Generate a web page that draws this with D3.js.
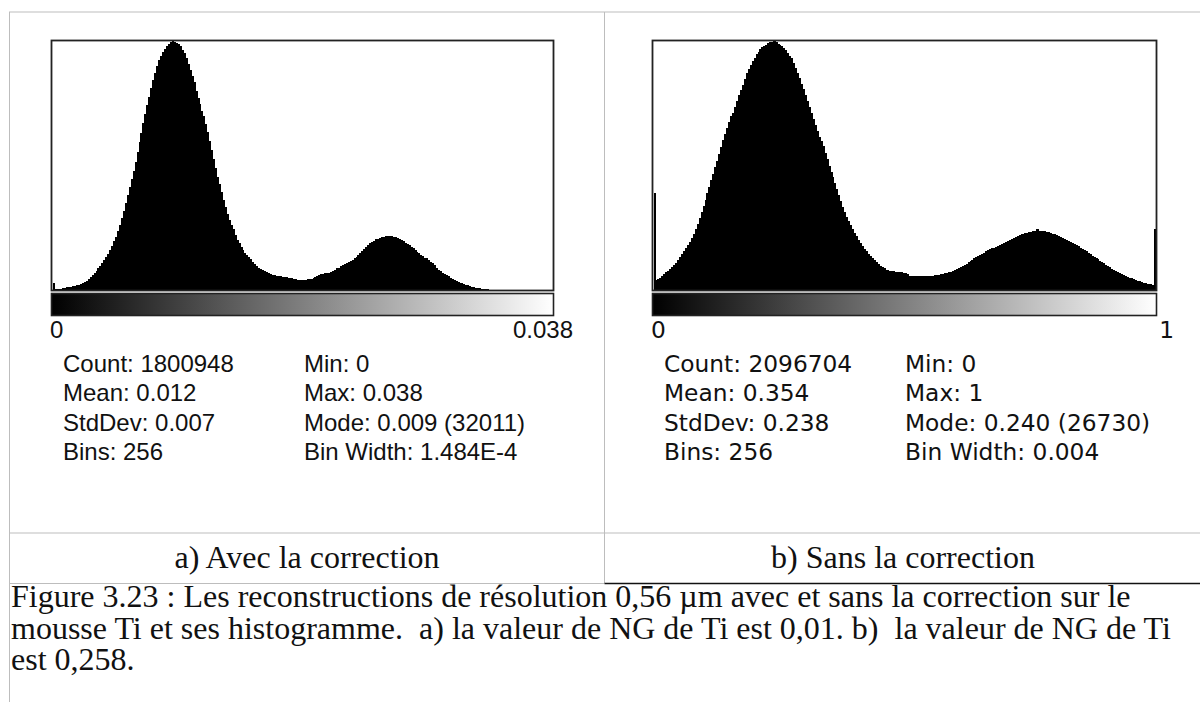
<!DOCTYPE html>
<html><head><meta charset="utf-8">
<script src="https://cdn.jsdelivr.net/npm/d3@7"></script>
<style>html,body{margin:0;padding:0;background:#fff;} svg{display:block}</style>
</head><body>
<svg id="c" width="1200" height="702"></svg>
<script>
// Histogram bin heights, in per-mille of the mode bin (256 bins each)
const histA = [
30,4,4,5,6,8,10,11,12,14, 15,17,19,22,25,28,33,38,45,52,
60,68,77,87,97,108,120,132,146,160, 175,195,214,235,260,290,318,348,380,412,
445,478,515,555,595,632,670,708,743,777, 810,842,870,898,922,940,955,967,978,988,
994,1000,996,992,989,980,965,950,930,908, 885,860,835,800,770,745,718,697,665,633,
600,562,525,490,455,425,393,362,335,306, 283,262,243,222,200,187,173,161,150,140,
133,123,112,103,95,88,84,80,75,72, 68,63,60,59,57,56,55,54,52,51,
49,48,47,45,43,42,40,41,41,42, 43,43,45,48,52,56,60,63,65,67,
68,70,72,76,82,87,90,95,101,104, 108,114,118,122,127,133,141,150,158,166,
174,181,188,193,198,203,206,209,213,214, 216,217,216,215,214,211,208,205,200,195,
189,184,179,172,168,161,153,148,141,135, 130,127,121,114,108,100,89,82,76,70,
64,60,55,50,45,40,36,32,29,27, 24,21,19,15,13,12,10,9,8,6,
5,4,3,2,1,1,0,0,0,0, 0,0,0,0,0,0,0,0,0,0,
0,0,0,0,0,0,0,0,0,0, 0,0,0,0,0,0
];
const histB = [
388,40,45,50,56,64,72,78,85,93, 102,110,120,132,143,155,168,180,193,208,
225,245,266,288,312,336,362,389,414,440, 467,492,520,547,575,603,628,652,675,697,
712,733,760,782,802,825,848,870,888,903, 918,932,947,957,967,975,980,985,990,994,
996,1000,996,989,985,978,972,962,952,940, 930,912,893,872,850,828,806,783,760,736,
712,688,663,638,614,600,578,552,525,498, 475,452,428,405,382,358,335,312,295,278,
260,243,229,215,200,187,175,165,155,145, 136,128,120,112,103,97,92,87,82,80,
78,77,75,74,73,72,71,70,68,64, 58,56,56,56,56,56,56,56,56,56,
57,57,58,59,60,62,64,66,68,70, 72,74,77,80,84,88,91,95,100,106,
112,118,122,127,132,137,141,146,150,155, 160,164,167,170,173,176,180,183,187,192,
197,202,206,210,214,218,221,223,225,227, 229,231,233,235,236,243,238,237,236,235,
233,231,229,226,224,221,218,214,210,206, 202,197,192,187,184,180,175,170,165,160,
155,149,143,138,133,128,123,117,112,107, 102,97,92,86,80,76,72,68,64,60,
57,54,50,47,44,41,38,35,32,29, 27,25,24,23,22,244
];
const rangeLabelsA = ["0", "0.038"];
const rangeLabelsB = ["0", "1"];
const statsLeftA = ["Count: 1800948", "Mean: 0.012", "StdDev: 0.007", "Bins: 256"];
const statsRightA = ["Min: 0", "Max: 0.038", "Mode: 0.009 (32011)", "Bin Width: 1.484E-4"];
const statsLeftB = ["Count: 2096704", "Mean: 0.354", "StdDev: 0.238", "Bins: 256"];
const statsRightB = ["Min: 0", "Max: 1", "Mode: 0.240 (26730)", "Bin Width: 0.004"];
const subCaptions = ["a) Avec la correction", "b) Sans la correction"];
const captionLines = [
  "Figure 3.23 : Les reconstructions de résolution 0,56 µm avec et sans la correction sur le",
  "mousse Ti et ses histogramme.  a) la valeur de NG de Ti est 0,01. b)  la valeur de NG de Ti",
  "est 0,258."
];

const svg = d3.select("#c");
const defs = svg.append("defs");
const grad = defs.append("linearGradient").attr("id", "lut").attr("x1", "0%").attr("x2", "100%");
grad.append("stop").attr("offset", "0%").attr("stop-color", "#000");
grad.append("stop").attr("offset", "100%").attr("stop-color", "#fff");

// table borders
const grid = "#bdbdbd";
const lines = [
  [9, 12, 1200, 12, grid, 1],
  [9.5, 12, 9.5, 702, grid, 1],
  [604.5, 12, 604.5, 583, grid, 1],
  [9, 533, 1200, 533, grid, 1],
  [9, 583.5, 604.5, 583.5, grid, 1],
  [604.5, 583.5, 1200, 583.5, "#111", 1.6]
];
svg.append("g").selectAll("line").data(lines).join("line")
  .attr("x1", d => d[0]).attr("y1", d => d[1]).attr("x2", d => d[2]).attr("y2", d => d[3])
  .attr("stroke", d => d[4]).attr("stroke-width", d => d[5]);

function panel(data, cfg) {
  const g = svg.append("g");
  const x = d3.scaleLinear().domain([0, data.length]).range([cfg.fx0 + 1, cfg.fx1 - 0.5]);
  const y = d3.scaleLinear().domain([0, 1000]).range([290, 41]);
  g.append("g").selectAll("rect").data(data).join("rect")
    .attr("x", (d, i) => x(i)).attr("width", (d, i) => x(i + 1) - x(i) + 0.4)
    .attr("y", d => y(d)).attr("height", d => y(0) - y(d))
    .attr("fill", "#000").attr("shape-rendering", "crispEdges");
  g.append("rect").attr("x", cfg.fx0).attr("y", 40.5).attr("width", cfg.fx1 - cfg.fx0).attr("height", 250)
    .attr("fill", "none").attr("stroke", "#222").attr("stroke-width", 1.8);
  g.append("rect").attr("x", cfg.fx0).attr("y", 293.5).attr("width", cfg.fx1 - cfg.fx0).attr("height", 22)
    .attr("fill", "url(#lut)").attr("stroke", "#222").attr("stroke-width", 1.6);
  const font = cfg.font, fs = cfg.fs;
  g.append("text").attr("x", cfg.fx0 - 1.5).attr("y", 337.5).text(cfg.range[0])
    .attr("font-family", font).attr("font-size", fs).attr("fill", "#111");
  g.append("text").attr("x", cfg.rx).attr("y", 337.5).attr("text-anchor", "end").text(cfg.range[1])
    .attr("font-family", font).attr("font-size", fs).attr("fill", "#111");
  const rows = [372, 401.3, 430.7, 459.7];
  g.append("g").selectAll("text").data(cfg.left).join("text")
    .attr("x", cfg.c1).attr("y", (d, i) => rows[i]).text(d => d)
    .attr("font-family", font).attr("font-size", fs).attr("fill", "#111");
  g.append("g").selectAll("text").data(cfg.right).join("text")
    .attr("x", cfg.c2).attr("y", (d, i) => rows[i]).text(d => d)
    .attr("font-family", font).attr("font-size", fs).attr("fill", "#111");
}

panel(histA, {fx0: 51.5, fx1: 553.5, rx: 573, c1: 63, c2: 304, range: rangeLabelsA, left: statsLeftA, right: statsRightA, font: "'Liberation Sans', Arial, sans-serif", fs: 24});
panel(histB, {fx0: 652.5, fx1: 1156.5, rx: 1174, c1: 664, c2: 905, range: rangeLabelsB, left: statsLeftB, right: statsRightB, font: "'DejaVu Sans', sans-serif", fs: 23.3});

const serif = "'Liberation Serif', 'Times New Roman', serif";
svg.append("g").selectAll("text").data(subCaptions).join("text")
  .attr("x", (d, i) => i === 0 ? 307 : 903).attr("y", 568).attr("text-anchor", "middle")
  .attr("font-family", serif).attr("font-size", 32).attr("fill", "#111").text(d => d);

svg.append("g").selectAll("text").data(captionLines).join("text")
  .attr("x", 11).attr("y", (d, i) => 607 + i * 31.5)
  .attr("font-family", serif).attr("font-size", 32).attr("fill", "#111")
  .style("white-space", "pre").text(d => d);
</script>
</body></html>
